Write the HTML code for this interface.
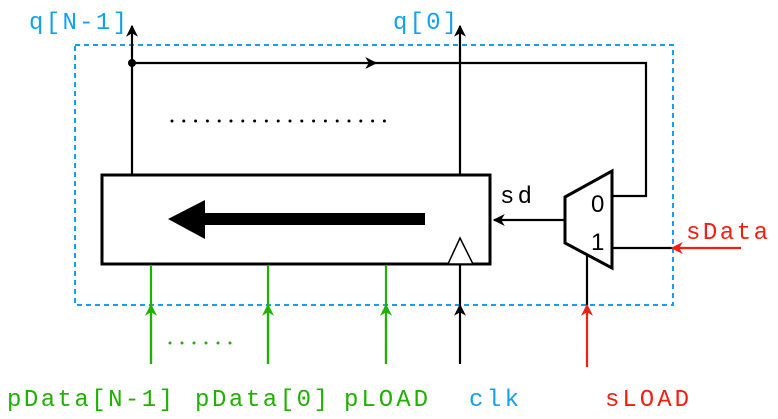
<!DOCTYPE html>
<html><head><style>html,body{margin:0;padding:0;background:#fff}svg{display:block}text{font-family:"Liberation Mono","DejaVu Sans Mono",monospace;font-size:24px}</style></head><body>
<svg width="778" height="419" viewBox="0 0 778 419" xmlns="http://www.w3.org/2000/svg">
<defs>
<marker id="ab" viewBox="0 0 10 10" refX="9" refY="5" markerWidth="12" markerHeight="12" markerUnits="userSpaceOnUse" orient="auto"><path d="M0,0 L10,5 L0,10 L3,5 z" fill="#000"/></marker>
<marker id="ag" viewBox="0 0 10 10" refX="9" refY="5" markerWidth="12" markerHeight="12" markerUnits="userSpaceOnUse" orient="auto"><path d="M0,0 L10,5 L0,10 L3,5 z" fill="#1fb000"/></marker>
<marker id="ar" viewBox="0 0 10 10" refX="9" refY="5" markerWidth="12" markerHeight="12" markerUnits="userSpaceOnUse" orient="auto"><path d="M0,0 L10,5 L0,10 L3,5 z" fill="#f02010"/></marker>
</defs>
<rect x="75" y="45" width="598" height="260" fill="none" stroke="#14a0f0" stroke-width="2" stroke-dasharray="5,4"/>
<line x1="132" y1="175" x2="132" y2="26" stroke="#000" stroke-width="2.2" marker-end="url(#ab)"/>
<line x1="460" y1="175" x2="460" y2="26" stroke="#000" stroke-width="2.2" marker-end="url(#ab)"/>
<circle cx="132" cy="63" r="4" fill="#000"/>
<line x1="132" y1="63" x2="376" y2="63" stroke="#000" stroke-width="2.2" marker-end="url(#ab)"/>
<polyline points="370,63 646,63 646,196 612,196" fill="none" stroke="#000" stroke-width="2.2"/>
<line x1="172" y1="121" x2="396" y2="121" stroke="#000" stroke-width="3" stroke-linecap="round" stroke-dasharray="0,11.8"/>
<rect x="102" y="175" width="388" height="89" fill="#fff" stroke="#000" stroke-width="3"/>
<rect x="204" y="213" width="221" height="12" fill="#000"/>
<polygon points="168,219 205,200 205,239" fill="#000"/>
<polygon points="448,264 460,238 473,264" fill="#fff" stroke="#000" stroke-width="1.5"/>
<polygon points="565,197 612,171 612,268 565,243" fill="#fff" stroke="#000" stroke-width="3"/>
<text x="591" y="212" style="font-family:'Liberation Sans',sans-serif;font-size:24px">0</text>
<text x="591" y="250" style="font-family:'Liberation Sans',sans-serif;font-size:24px">1</text>
<line x1="564" y1="220" x2="494" y2="220" stroke="#000" stroke-width="2.2" marker-end="url(#ab)"/>
<text x="500" y="203" fill="#000" textLength="32">sd</text>
<line x1="613" y1="248" x2="672" y2="248" stroke="#000" stroke-width="2.2"/>
<line x1="741" y1="248" x2="672" y2="248" stroke="#f02010" stroke-width="2.2" marker-end="url(#ar)"/>
<text x="686" y="239" fill="#f02010" textLength="82">sData</text>
<line x1="587" y1="256" x2="587" y2="305" stroke="#000" stroke-width="2.2"/>
<line x1="587" y1="367" x2="587" y2="305" stroke="#f02010" stroke-width="2.2" marker-end="url(#ar)"/>
<line x1="460" y1="264" x2="460" y2="305" stroke="#000" stroke-width="2.2"/>
<line x1="460" y1="364" x2="460" y2="305" stroke="#000" stroke-width="2.2" marker-end="url(#ab)"/>
<line x1="151" y1="364" x2="151" y2="265" stroke="#1fb000" stroke-width="2.2"/>
<line x1="268" y1="364" x2="268" y2="265" stroke="#1fb000" stroke-width="2.2"/>
<line x1="386" y1="364" x2="386" y2="265" stroke="#1fb000" stroke-width="2.2"/>
<line x1="151" y1="364" x2="151" y2="305" stroke="#1fb000" stroke-width="2.2" marker-end="url(#ag)"/>
<line x1="268" y1="364" x2="268" y2="305" stroke="#1fb000" stroke-width="2.2" marker-end="url(#ag)"/>
<line x1="386" y1="364" x2="386" y2="305" stroke="#1fb000" stroke-width="2.2" marker-end="url(#ag)"/>
<line x1="170" y1="343" x2="242" y2="343" stroke="#1fb000" stroke-width="3" stroke-linecap="round" stroke-dasharray="0,12"/>
<text x="29" y="29" fill="#14a0f0" textLength="98">q[N-1]</text>
<text x="393" y="29" fill="#14a0f0" textLength="64">q[0]</text>
<text x="7" y="406" fill="#1fb000" textLength="166">pData[N-1]</text>
<text x="195" y="406" fill="#1fb000" textLength="133">pData[0]</text>
<text x="344" y="406" fill="#1fb000" textLength="84">pLOAD</text>
<text x="469" y="406" fill="#14a0f0" textLength="50">clk</text>
<text x="605" y="406" fill="#f02010" textLength="84">sLOAD</text>
</svg>
</body></html>
